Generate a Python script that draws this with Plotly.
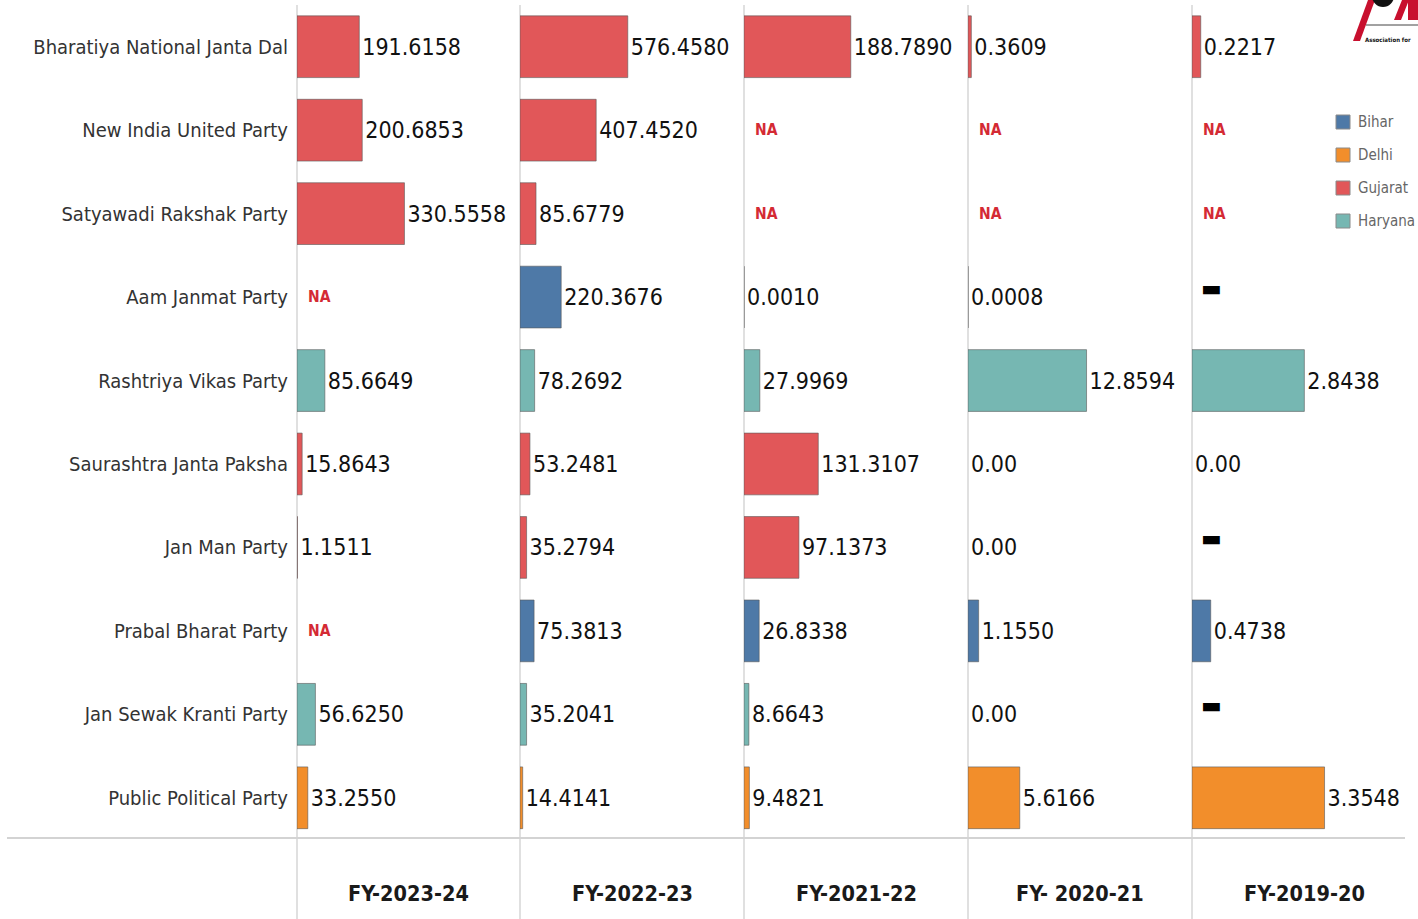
import plotly.graph_objects as go
from plotly.subplots import make_subplots

# ---- data -------------------------------------------------------------
NA = "NA"      # not available (red NA tag)
NULL = "-"     # null (black dash)

parties = [
    "Bharatiya National Janta Dal", "New India United Party", "Satyawadi Rakshak Party",
    "Aam Janmat Party", "Rashtriya Vikas Party", "Saurashtra Janta Paksha",
    "Jan Man Party", "Prabal Bharat Party", "Jan Sewak Kranti Party", "Public Political Party",
]
party_state = ["Gujarat", "Gujarat", "Gujarat", "Bihar", "Haryana",
               "Gujarat", "Gujarat", "Bihar", "Haryana", "Delhi"]

years = ["FY-2023-24", "FY-2022-23", "FY-2021-22", "FY- 2020-21", "FY-2019-20"]

fy_2023_24 = [191.6158, 200.6853, 330.5558, NA, 85.6649, 15.8643, 1.1511, NA, 56.6250, 33.2550]
fy_2022_23 = [576.4580, 407.4520, 85.6779, 220.3676, 78.2692, 53.2481, 35.2794, 75.3813, 35.2041, 14.4141]
fy_2021_22 = [188.7890, NA, NA, 0.0010, 27.9969, 131.3107, 97.1373, 26.8338, 8.6643, 9.4821]
fy_2020_21 = [0.3609, NA, NA, 0.0008, 12.8594, 0.00, 0.00, 1.1550, 0.00, 5.6166]
fy_2019_20 = [0.2217, NA, NA, NULL, 2.8438, 0.00, NULL, 0.4738, NULL, 3.3548]

year_values = [fy_2023_24, fy_2022_23, fy_2021_22, fy_2020_21, fy_2019_20]

states = ["Bihar", "Delhi", "Gujarat", "Haryana"]
state_colors = {"Bihar": "#4e79a7", "Delhi": "#f28e2b", "Gujarat": "#e15759", "Haryana": "#76b7b2"}

# independent x scale per panel (Tableau-like)
x_max = [686, 1198, 396, 24.3, 5.67]

# ---- layout helpers ---------------------------------------------------
W, H = 1418, 919
FONT = "DejaVu Sans Condensed, Liberation Sans Narrow, sans-serif"
panel_left = [297, 520, 744, 968, 1192, 1416]


def px(x):
    return x / W


def py(y):
    return 1 - y / H


def fmt(v):
    return "0.00" if v == 0 else f"{v:.4f}"


fig = make_subplots(rows=1, cols=5, shared_yaxes=True, horizontal_spacing=0)

for c, vals in enumerate(year_values):
    xref = "x" if c == 0 else f"x{c + 1}"
    for s in states:
        ys, xs, txt = [], [], []
        for p, st, v in zip(parties, party_state, vals):
            if st == s and not isinstance(v, str):
                ys.append(p)
                xs.append(v)
                txt.append(fmt(v))
        if not xs:
            continue
        fig.add_trace(go.Bar(
            x=xs, y=ys, orientation="h", name=s, showlegend=False, width=0.74,
            marker=dict(color=state_colors[s],
                        line=dict(color="rgba(90,90,90,0.6)",
                                  width=[1 if v > 0 else 0 for v in xs])),
            text=txt, textposition="outside", constraintext="none", cliponaxis=False,
            textfont=dict(family=FONT, size=23, color="#111"),
            hoverinfo="x+y",
        ), row=1, col=c + 1)

    # NA tags and null dashes
    for p, v in zip(parties, vals):
        if v == NA:
            fig.add_annotation(x=0, y=p, xref=xref, yref="y",
                               text="<b>NA</b>", showarrow=False, xanchor="left", xshift=9,
                               font=dict(family=FONT, size=15.5, color="#d42a34"))
        elif v == NULL:
            fig.add_annotation(x=0, y=p, xref=xref, yref="y",
                               text="▬", showarrow=False, xanchor="left", xshift=7, yshift=9,
                               font=dict(family="DejaVu Sans", size=22, color="#000"))

    # column header
    fig.add_annotation(x=0.5, y=py(893), xref=f"{xref} domain", yref="paper",
                       yanchor="middle", text=f"<b>{years[c]}</b>", showarrow=False,
                       font=dict(family=FONT, size=21.5, color="#1a1a1a"))

    ax = "xaxis" if c == 0 else f"xaxis{c + 1}"
    fig.layout[ax].update(domain=[px(panel_left[c]), px(panel_left[c + 1])],
                          range=[0, x_max[c]], visible=False, fixedrange=True,
                          automargin=False)

fig.update_yaxes(type="category", categoryorder="array", categoryarray=parties,
                 range=[9.5, -0.5], domain=[py(839.5), py(5)], automargin=False,
                 showgrid=False, zeroline=False, showline=False, ticks="",
                 ticklabelstandoff=8, fixedrange=True,
                 tickfont=dict(family=FONT, size=20, color="#333"))

# separators
shapes = []
for xl in panel_left[:5]:
    shapes.append(dict(type="line", xref="paper", yref="paper", x0=px(xl), x1=px(xl),
                       y0=py(919), y1=py(5), line=dict(color="#d6d6d6", width=1.5), layer="below"))
shapes.append(dict(type="line", xref="paper", yref="paper", x0=px(7), x1=px(1405),
                   y0=py(838), y1=py(838), line=dict(color="#d3d3d3", width=2)))

# hand-drawn legend (the original is cropped at the right edge)
for i, s in enumerate(states):
    yc = 122 + 33 * i
    shapes.append(dict(type="rect", xref="paper", yref="paper",
                       x0=px(1336), x1=px(1350), y0=py(yc + 7), y1=py(yc - 7),
                       fillcolor=state_colors[s], line=dict(color="#8a8a8a", width=1)))
    fig.add_annotation(x=px(1356), y=py(yc), xref="paper", yref="paper", xanchor="left",
                       yanchor="middle", text=s, showarrow=False,
                       font=dict(family=FONT, size=15, color="#666"))

# logo fragment (top-right corner)
shapes.append(dict(type="path", xref="paper", yref="paper",
                   path=f"M {px(1353)},{py(41)} L {px(1360)},{py(41)} L {px(1375)},{py(0)} L {px(1368)},{py(0)} Z",
                   fillcolor="#c8102e", line=dict(width=0)))
shapes.append(dict(type="circle", xref="paper", yref="paper",
                   x0=px(1372), x1=px(1394), y0=py(7), y1=py(-15),
                   fillcolor="#111", line=dict(width=0)))
shapes.append(dict(type="path", xref="paper", yref="paper",
                   path=f"M {px(1394)},{py(20)} L {px(1401)},{py(20)} L {px(1409)},{py(0)} L {px(1402)},{py(0)} Z",
                   fillcolor="#c8102e", line=dict(width=0)))
shapes.append(dict(type="rect", xref="paper", yref="paper",
                   x0=px(1408), x1=px(1418), y0=py(20), y1=py(0),
                   fillcolor="#c8102e", line=dict(width=0)))
shapes.append(dict(type="line", xref="paper", yref="paper", x0=px(1366), x1=px(1418),
                   y0=py(25), y1=py(25), line=dict(color="#444", width=1)))
fig.add_annotation(x=px(1363), y=py(34), xref="paper", yref="paper", xanchor="left",
                   text="<b>Association for</b>", showarrow=False,
                   font=dict(family=FONT, size=6, color="#111"))

fig.update_layout(
    width=W, height=H,
    margin=dict(l=0, r=0, t=0, b=0, autoexpand=False),
    plot_bgcolor="white", paper_bgcolor="white",
    barmode="overlay",
    shapes=shapes,
    showlegend=False,
    font=dict(family=FONT),
)

# drop the default 8px page margin so the figure sits at the window origin
fig.write_html("out.html", config={"displayModeBar": False},
               post_script="document.body.style.margin='0';")
